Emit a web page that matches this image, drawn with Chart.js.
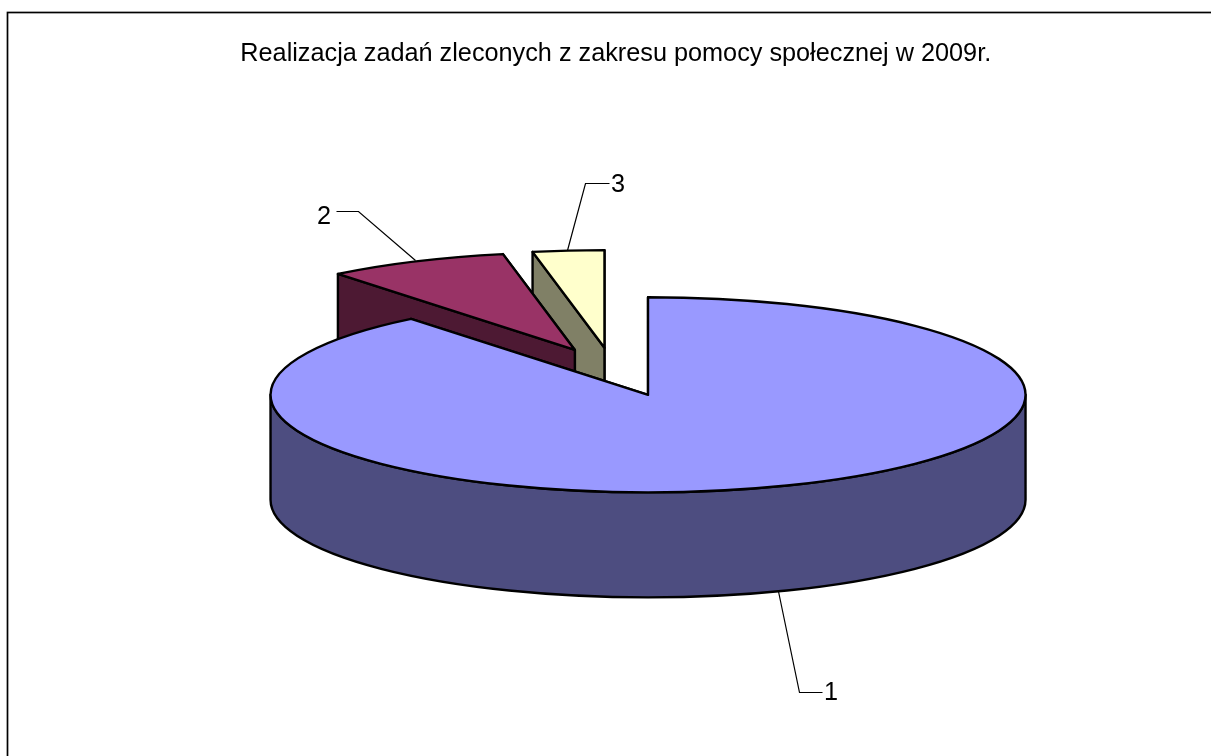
<!DOCTYPE html>
<html><head><meta charset="utf-8">
<style>html,body{margin:0;padding:0;background:#fff}canvas{display:block}</style>
<script src="https://cdn.jsdelivr.net/npm/chart.js@4"></script>
</head><body><canvas id="c" width="1211" height="756" style="width:1211px;height:756px"></canvas>
<script>
const categories = ["1", "2", "3"];
const values = [89.2, 7.75, 3.05];
const topColors = ["#9999FF", "#993366", "#FFFFCC"];
const wallColors = ["#4D4D80", "#4D1933", "#808066"];
const titleText = "Realizacja zadań zleconych z zakresu pomocy społecznej w 2009r.";
const leaders = [
  {pts:[[778,591],[799,692],[822,692]], text:[831,693]},
  {pts:[[415,260],[358,211],[336,211]], text:[324,217]},
  {pts:[[567,250],[585,183],[609,183]], text:[618,185]}
];

const SQUASH = 0.2585, DEPTH = 105, EDGE = 2.4, EXPLODE = 97;
const EXPLODE_X_EXTRA = [0, 0, -2];
const EXPLODE_Y_EXTRA = [0, 1.5, 1.5];

const pie3d = {
  id: 'pie3d',
  beforeDraw(chart) {
    const c = chart.ctx;
    c.save();
    c.fillStyle = '#fff'; c.fillRect(0,0,chart.width,chart.height);
    c.strokeStyle = '#000'; c.lineWidth = 1.7;
    c.strokeRect(7.5,12.5,1300,900);
    c.restore();
  },
  beforeDatasetDraw(chart) {
    const c = chart.ctx;
    const arcs = chart.getDatasetMeta(0).data;
    const cx = arcs[0].x, cy = arcs[0].y;
    const P = (x, y, down) => [cx + x, cy + y * SQUASH + (down || 0)];
    [2,1,0].forEach(i => {
      const a = arcs[i], R = a.outerRadius;
      const mid = (a.startAngle + a.endAngle) / 2;
      const ox = Math.cos(mid) * EXPLODE + EXPLODE_X_EXTRA[i];
      const oy = Math.sin(mid) * EXPLODE + EXPLODE_Y_EXTRA[i] / SQUASH;
      const pt = (ang, r) => [ox + Math.cos(ang) * r, oy + Math.sin(ang) * r];
      const s = pt(a.startAngle, R), e = pt(a.endAngle, R), o = [ox, oy];
      c.save();
      c.lineJoin = 'round'; c.lineWidth = EDGE; c.strokeStyle = '#000'; c.fillStyle = wallColors[i];
      [e, s].forEach(q => {
        c.beginPath();
        const A = P(o[0], o[1]), B = P(q[0], q[1]), C = P(q[0], q[1], DEPTH), D = P(o[0], o[1], DEPTH);
        c.moveTo(...A); c.lineTo(...B); c.lineTo(...C); c.lineTo(...D); c.closePath();
        c.fill(); c.stroke();
      });
      for (const k of [0, 2*Math.PI]) {
        const lo = Math.max(a.startAngle, k), hi = Math.min(a.endAngle, k + Math.PI);
        if (hi > lo) {
          const pc = P(ox, oy);
          c.beginPath();
          c.ellipse(pc[0], pc[1], R, R*SQUASH, 0, lo, hi);
          c.ellipse(pc[0], pc[1] + DEPTH, R, R*SQUASH, 0, hi, lo, true);
          c.closePath(); c.fill(); c.stroke();
        }
      }
      c.save();
      c.translate(0, cy); c.scale(1, SQUASH); c.translate(0, -cy);
      c.translate(ox, oy);
      a.draw(c, chart.chartArea);
      c.restore();
      const pc = P(ox, oy);
      c.beginPath();
      c.moveTo(...pc);
      c.ellipse(pc[0], pc[1], R, R*SQUASH, 0, a.startAngle, a.endAngle);
      c.closePath(); c.stroke();
      c.restore();
    });
    c.save();
    c.strokeStyle = '#000'; c.lineWidth = 1.2; c.fillStyle = '#000';
    c.font = '25.25px "Liberation Sans"'; c.textAlign = 'center'; c.textBaseline = 'middle';
    leaders.forEach((l, i) => {
      c.beginPath();
      l.pts.forEach((p, j) => j ? c.lineTo(p[0]+.5, p[1]+.5) : c.moveTo(p[0]+.5, p[1]+.5));
      c.stroke();
      c.fillText(categories[i], l.text[0], l.text[1]);
    });
    c.restore();
    return false;
  }
};

new Chart(document.getElementById('c'), {
  type: 'pie',
  data: { labels: categories, datasets: [{
    data: values, backgroundColor: topColors, borderWidth: 0, clip: false
  }]},
  options: {
    responsive: false, animation: false, radius: 377.5,
    layout: { padding: { left: 20.5, right: 0, top: 0, bottom: 83 } },
    plugins: {
      legend: { display: false }, tooltip: { enabled: false },
      title: { display: true, text: titleText, color: '#000',
        font: { family: '"Liberation Sans"', size: 25.25, weight: 'normal' },
        padding: { top: 39, bottom: 0 } }
    }
  },
  plugins: [pie3d]
});
</script></body></html>
